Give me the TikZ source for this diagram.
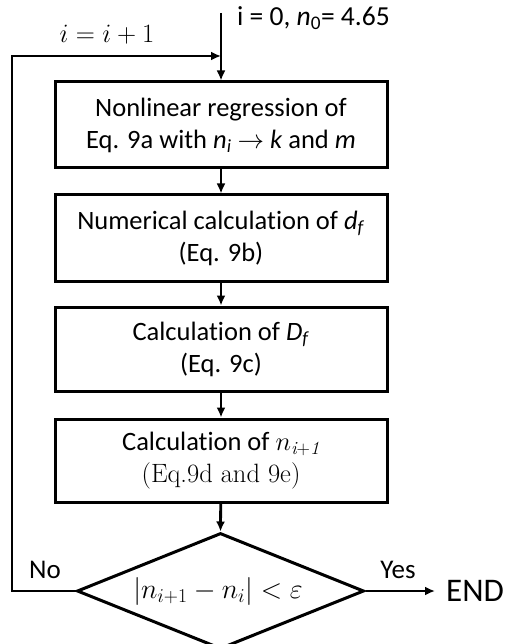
\RequirePackage{fix-cm}
\documentclass[tikz,border=0pt]{standalone}
\usepackage{fontspec}
\setsansfont{Carlito}[Ligatures=NoCommon]
\usetikzlibrary{shapes.geometric,arrows.meta}
\begin{document}
\begin{tikzpicture}[x=1pt,y=-1pt,
  every node/.style={font=\sffamily\fontsize{26.5}{32}\selectfont},
  box/.style={draw,line width=3pt,minimum width=332pt,align=center,inner sep=0pt},
  dec/.style={draw,shape=diamond,line width=3pt,minimum width=287pt,minimum height=116pt,inner sep=0pt},
  conn/.style={line width=2.8pt,-{Latex[length=10pt,width=9pt]}},
  lbl/.style={inner sep=0pt}]
\useasboundingbox (0,0) rectangle (504,644);
\coordinate (start) at (221,13);
\node[box,minimum height=86pt] (b1) at (221,125) {Nonlinear regression of\\Eq. 9a with \textit{n}\textsubscript{\textit{i}} $\rightarrow$ \textit{k} and \textit{m}};
\node[box,minimum height=86pt] (b2) at (221,238) {Numerical calculation of \textit{d}\textsubscript{\textit{f}}\\(Eq. 9b)};
\node[box,minimum height=84pt] (b3) at (221,349) {Calculation of \textit{D}\textsubscript{\textit{f}}\\(Eq. 9c)};
\node[box,minimum height=83pt] (b4) at (221,460.5) {Calculation of $n_{\mathit{i+1}}$\\{\rmfamily(Eq.9d and 9e)}};
\node[dec] (d) at (220.5,591) {};
\node[lbl,font=\sffamily\fontsize{28}{32}\selectfont] at (218,591) {$|n_{i+1}-n_i|<\varepsilon$};
\node[lbl,anchor=west,font=\sffamily\fontsize{33}{36}\selectfont] (end) at (446,591) {END};
\node[lbl,font=\sffamily\fontsize{27}{32}\selectfont] (no) at (45,570) {No};
\node[lbl,font=\sffamily\fontsize{27}{32}\selectfont] (yes) at (398,570) {Yes};
\node[lbl] (inc) at (107,35) {$i=i+1$};
\node[lbl,anchor=west,font=\sffamily\fontsize{27.5}{32}\selectfont] (init) at (237,18) {i = 0, \textit{n}\textsubscript{0}= 4.65};
\coordinate (join) at (221,56);
\draw[conn] (start) -- (b1.north);
\draw[conn] (b1) -- (b2);
\draw[conn] (b2) -- (b3);
\draw[conn] (b3) -- (b4);
\draw[conn] (b4) -- (d.north);
\draw[conn] (d.east) -- ([xshift=-11pt]end.west);
\draw[conn] (d.west) -- (12,591) -- (12,56) -- (join);
\end{tikzpicture}
\end{document}
